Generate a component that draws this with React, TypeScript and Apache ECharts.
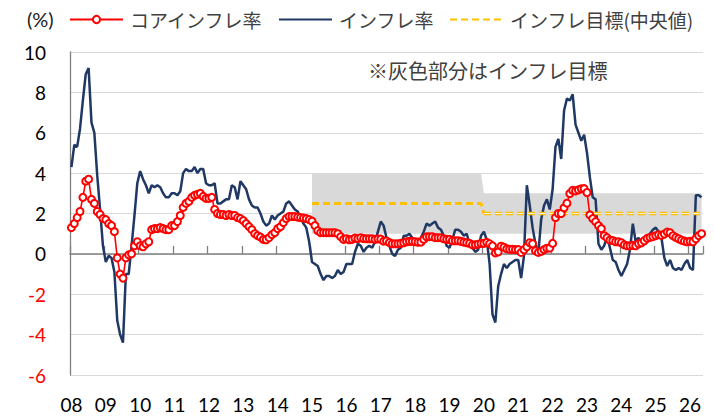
import { useEffect, useRef } from "react";
import * as echarts from "echarts";

// Tick labels (years) on the x axis
const years = ["08", "09", "10", "11", "12", "13", "14", "15", "16", "17", "18", "19", "20", "21", "22", "23", "24", "25", "26"];
const monthsInLastYear = 5;

// Monthly categories built from the years list
const categories: string[] = [];
years.forEach((y, yi) => {
  const n = yi === years.length - 1 ? monthsInLastYear : 12;
  for (let m = 1; m <= n; m++) categories.push(`20${y}-${String(m).padStart(2, "0")}`);
});

// インフレ率 (headline inflation, % y/y), Jan 2008 .. May 2026
const headline = [
  4.3, 5.4, 5.3, 6.2, 7.6, 8.9, 9.2, 6.5, 6.0, 3.9, 2.2, 0.4,
  -0.4, -0.1, -0.2, -0.9, -3.3, -4.0, -4.4, -1.0, -1.0, 0.4, 1.9, 3.5,
  4.1, 3.7, 3.4, 3.0, 3.4, 3.3, 3.4, 3.3, 3.0, 2.8, 2.8, 3.0,
  3.0, 2.9, 3.1, 4.0, 4.2, 4.1, 4.1, 4.3, 4.0, 4.2, 4.2, 3.5,
  3.4, 3.4, 3.5, 2.5, 2.5, 2.6, 2.7, 2.7, 3.4, 3.3, 2.7, 3.6,
  3.4, 3.2, 2.7, 2.4, 2.3, 2.3, 2.0, 1.6, 1.4, 1.5, 1.9, 1.7,
  1.9, 2.0, 2.1, 2.5, 2.6, 2.4, 2.2, 2.1, 1.8, 1.5, 1.3, 0.6,
  -0.4, -0.5, -0.6, -1.0, -1.3, -1.1, -1.1, -1.2, -1.1, -0.8, -1.0, -0.9,
  -0.5, -0.5, -0.5, 0.1, 0.5, 0.4, 0.1, 0.3, 0.4, 0.3, 0.6, 1.1,
  1.6, 1.4, 0.8, 0.4, 0.0, -0.1, 0.2, 0.3, 0.9, 0.9, 1.0, 0.8,
  0.7, 0.4, 0.8, 1.1, 1.5, 1.4, 1.5, 1.6, 1.3, 1.2, 0.9, 0.4,
  0.3, 0.7, 1.2, 1.2, 1.1, 0.9, 1.0, 0.5, 0.3, 0.1, 0.2, 0.9,
  1.1, 0.7, -0.5, -3.0, -3.4, -1.6, -1.0, -0.5, -0.7, -0.5, -0.4, -0.3,
  -0.3, -1.2, -0.1, 3.4, 2.4, 1.3, 0.5, 0.0, 1.7, 2.4, 2.7, 2.2,
  3.2, 5.3, 5.7, 4.7, 7.1, 7.7, 7.6, 7.9, 6.4, 6.0, 5.6, 5.9,
  5.0, 3.8, 2.8, 2.7, 0.5, 0.2, 0.4, 0.9, 0.3, -0.3, -0.4, -0.8,
  -1.1, -0.8, -0.5, 0.2, 1.5, 0.6, 0.8, 0.4, 0.6, 0.8, 1.0, 1.2,
  1.3, 1.1, 0.8, -0.2, -0.6, -0.3, -0.7, -0.8, -0.7, -0.8, -0.5, -0.3,
  -0.7, -0.8, 2.9, 2.9, 2.8,
];

// コアインフレ率 (core inflation, % y/y), Jan 2008 .. May 2026
const core = [
  1.3, 1.5, 1.8, 2.1, 2.8, 3.6, 3.7, 2.7, 2.5, 2.1, 1.95, 1.75,
  1.7, 1.5, 1.4, 1.1, -0.2, -1.0, -1.2, -0.2, -0.05, 0.0, 0.4, 0.6,
  0.4, 0.35, 0.5, 0.6, 1.2, 1.25, 1.25, 1.3, 1.25, 1.2, 1.2, 1.4,
  1.4, 1.6, 1.9, 2.3, 2.5, 2.6, 2.8, 2.9, 2.95, 3.0, 2.85, 2.75,
  2.75, 2.8, 2.2, 2.0, 1.95, 1.95, 1.9, 1.95, 1.9, 1.9, 1.8, 1.75,
  1.65, 1.5, 1.35, 1.2, 1.0, 0.9, 0.83, 0.72, 0.7, 0.8, 0.95, 1.05,
  1.25, 1.35, 1.55, 1.75, 1.85, 1.85, 1.85, 1.82, 1.8, 1.77, 1.75, 1.7,
  1.62, 1.4, 1.15, 1.05, 1.05, 1.05, 1.05, 1.05, 1.05, 1.0, 0.85, 0.72,
  0.75, 0.7, 0.72, 0.78, 0.76, 0.8, 0.76, 0.75, 0.75, 0.75, 0.72, 0.74,
  0.73, 0.63, 0.64, 0.56, 0.5, 0.5, 0.5, 0.52, 0.55, 0.6, 0.62, 0.62,
  0.6, 0.58, 0.58, 0.72, 0.84, 0.85, 0.85, 0.8, 0.8, 0.8, 0.75, 0.72,
  0.72, 0.65, 0.65, 0.65, 0.62, 0.58, 0.55, 0.52, 0.45, 0.45, 0.48, 0.52,
  0.52, 0.57, 0.5, 0.4, 0.05, 0.1, 0.38, 0.33, 0.25, 0.23, 0.23, 0.21,
  0.21, 0.07, 0.2, 0.35, 0.55, 0.5, 0.15, 0.07, 0.13, 0.21, 0.28, 0.29,
  0.52, 1.8, 2.0, 2.0, 2.28, 2.51, 2.99, 3.15, 3.12, 3.17, 3.22, 3.23,
  3.04, 1.93, 1.75, 1.6, 1.4, 1.25, 0.9, 0.8, 0.68, 0.66, 0.6, 0.6,
  0.55, 0.45, 0.4, 0.4, 0.42, 0.4, 0.5, 0.55, 0.65, 0.77, 0.82, 0.85,
  0.9, 0.95, 0.92, 0.98, 1.08, 1.05, 0.9, 0.82, 0.75, 0.68, 0.63, 0.6,
  0.62, 0.6, 0.75, 0.9, 1.0,
];

// Inflation target regimes
const targetStart = ["2015-01", "2020-01"];
const targetEnd = ["2019-12", "2026-05"];
const targetLow = [1, 1];
const targetHigh = [4, 3];
const targetMid = [2.5, 2.0];

// y-axis tick range
const yMin = -6;
const yMax = 10;
const yStep = 2;

const regimeOf = (c: string) => targetStart.findIndex((s, k) => c >= s && c <= targetEnd[k]);
const bandLow = categories.map((c) => { const k = regimeOf(c); return k < 0 ? null : targetLow[k]; });
const bandSpan = categories.map((c) => { const k = regimeOf(c); return k < 0 ? null : targetHigh[k] - targetLow[k]; });
const midFirst = categories.map((c) => {
  const k = regimeOf(c);
  if (k === 0) return targetMid[0];
  if (k === 1 && c === targetStart[1]) return targetMid[1];
  return null;
});
const midSecond = categories.map((c) => (regimeOf(c) === 1 ? targetMid[1] : null));

const CJK = '"Noto Sans CJK JP", sans-serif';
const NUM = 'Lato, "Noto Sans", sans-serif';

export default function App() {
  const ref = useRef<HTMLDivElement>(null);
  useEffect(() => {
    if (!ref.current) return;
    const chart = echarts.init(ref.current, null, { renderer: "svg" });
    const dash = [7, 4];
    chart.setOption({
      animation: false,
      backgroundColor: "#ffffff",
      grid: { left: 70, right: 11, top: 52, bottom: 45, containLabel: false },
      legend: {
        data: [
          { name: "コアインフレ率" },
          { name: "インフレ率", itemStyle: { opacity: 0 } },
          { name: "インフレ目標(中央値)", itemStyle: { opacity: 0 } },
        ],
        left: 69,
        top: 10,
        padding: 0,
        itemWidth: 53,
        itemHeight: 9,
        itemGap: 15,
        textStyle: { fontSize: 19, fontFamily: CJK, color: "#404040", padding: [0, 0, 0, 2] },
      },
      graphic: [
        { type: "text", left: 27, top: 9, style: { text: "(%)", font: `20px ${NUM}`, fill: "#202020" } },
        { type: "text", left: 368, top: 60, style: { text: "※灰色部分はインフレ目標", font: `20px ${CJK}`, fill: "#404040" } },
      ],
      xAxis: [
        {
          type: "category",
          data: categories,
          boundaryGap: true,
          position: "bottom",
          axisLine: { show: false, onZero: false },
          axisTick: { show: false },
          splitLine: { show: false },
          axisLabel: {
            interval: (i: number) => i % 12 === 0,
            formatter: (v: string) => v.slice(2, 4),
            margin: 20,
            fontSize: 19,
            fontFamily: NUM,
            color: "#000",
          },
        },
        {
          type: "category",
          data: categories,
          boundaryGap: true,
          position: "bottom",
          axisLine: { show: true, onZero: true, lineStyle: { color: "#808080", width: 1.5 } },
          axisTick: { show: true, inside: true, length: 8, interval: (i: number) => i % 12 === 0, lineStyle: { color: "#808080", width: 1.3 } },
          axisLabel: { show: false },
          splitLine: { show: false },
        },
      ],
      yAxis: {
        type: "value",
        min: yMin,
        max: yMax,
        interval: yStep,
        axisLine: { show: true, lineStyle: { color: "#808080", width: 1.3 } },
        axisTick: { show: false },
        splitLine: { show: true, lineStyle: { color: "#d9d9d9", width: 1 } },
        axisLabel: {
          margin: 24,
          fontSize: 19,
          fontFamily: NUM,
          color: (v: any) => (Number(v) < 0 ? "#ff0000" : "#000000"),
        },
      },
      series: [
        {
          name: "band-low",
          type: "line",
          stack: "band",
          data: bandLow,
          symbol: "none",
          lineStyle: { width: 0, opacity: 0 },
          silent: true,
        },
        {
          name: "band",
          type: "line",
          stack: "band",
          data: bandSpan,
          symbol: "none",
          lineStyle: { width: 0, opacity: 0 },
          areaStyle: { color: "#d9d9d9", opacity: 1 },
          silent: true,
        },
        {
          name: "コアインフレ率",
          type: "line",
          data: core,
          symbol: "emptyCircle",
          symbolSize: 7,
          showAllSymbol: true,
          itemStyle: { color: "#ff0000", borderWidth: 1.2 },
          lineStyle: { color: "#ff0000", width: 1.6 },
        },
        {
          name: "インフレ率",
          type: "line",
          data: headline,
          symbol: "none",
          itemStyle: { color: "#1f3864" },
          lineStyle: { color: "#1f3864", width: 2.5 },
        },
        {
          name: "インフレ目標(中央値)",
          type: "line",
          data: midFirst,
          symbol: "none",
          itemStyle: { color: "#ffc000" },
          lineStyle: { color: "#ffc000", width: 3, type: dash },
        },
        {
          name: "インフレ目標(中央値)",
          type: "line",
          data: midSecond,
          symbol: "none",
          itemStyle: { color: "#ffc000" },
          lineStyle: { color: "#ffc000", width: 3.6, type: dash },
        },
        {
          name: "target-inner",
          type: "line",
          data: midSecond,
          symbol: "none",
          silent: true,
          lineStyle: { color: "#f2f2f2", width: 1, type: dash },
        },
      ],
    });
    return () => chart.dispose();
  }, []);
  return <div ref={ref} style={{ position: "fixed", left: 0, top: 0, width: 714, height: 420 }} />;
}
